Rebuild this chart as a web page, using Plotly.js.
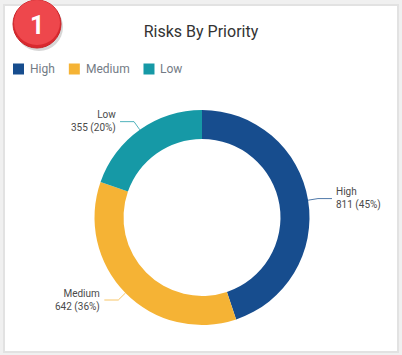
<!DOCTYPE html>
<html>
<head>
<meta charset="utf-8">
<script src="https://cdn.plot.ly/plotly-3.0.1.min.js"></script>
<style>
html,body{margin:0;padding:0;background:#f0f0f0;}
#chart{width:402px;height:355px;}
</style>
</head>
<body>
<div id="chart"></div>
<script>
// ---- data ----
const categories = ["High", "Medium", "Low"];
const values = [811, 642, 355];
const colors = ["#174d8e", "#f5b335", "#1699a6"];
const chartTitle = "Risks By Priority";
const badgeText = "1";

// ---- layout geometry (pixels) ----
const W = 402, H = 355;
const cx = 202, cy = 217.5, R = 107.5;
const FONT = "Roboto, sans-serif";

const total = values.reduce((a, b) => a + b, 0);
const traces = [];
traces.push({
  type: "pie",
  labels: categories,
  values: values,
  marker: { colors: colors, line: { width: 0 } },
  hole: 0.73,
  sort: false,
  direction: "clockwise",
  rotation: 0,
  textinfo: "none",
  showlegend: false,
  hoverinfo: "label+value+percent",
  domain: { x: [(cx - R) / W, (cx + R) / W], y: [(H - cy - R) / H, (H - cy + R) / H] }
});

const annotations = [];
const shapes = [
  { type: "rect", xref: "paper", yref: "paper", x0: 4 / W, x1: 398 / W, y0: 1 - 352 / H, y1: 1 - 5 / H,
    fillcolor: "#ffffff", line: { color: "#e2e2e2", width: 2 }, layer: "below" }
];

let cum = 0;
values.forEach((v, i) => {
  const mid = (cum + v / 2) / total * 2 * Math.PI;
  cum += v;
  const sx = Math.sin(mid), sy = -Math.cos(mid);
  const p0 = [cx + R * sx, cy + R * sy];
  const p1 = [cx + (R + 10) * sx, cy + (R + 10) * sy];
  const right = sx >= 0;
  const p2 = [p1[0] + (right ? 14 : -14), p1[1]];
  traces.push({
    type: "scatter", mode: "lines", x: [p0[0], p1[0], p2[0]], y: [p0[1], p1[1], p2[1]],
    line: { color: colors[i], width: 1 }, opacity: 0.75, showlegend: false, hoverinfo: "skip",
    xaxis: "x", yaxis: "y"
  });
  const pct = Math.round(v / total * 100);
  annotations.push({
    xref: "x", yref: "y", x: p2[0] + (right ? 2 : -2), y: p2[1],
    xanchor: right ? "left" : "right", yanchor: "middle", align: right ? "left" : "right",
    showarrow: false, text: categories[i] + "<br>" + v + " (" + pct + "%)",
    font: { family: FONT, size: 10, color: "#4a4a4a" }
  });
});

// ---- legend (squares + labels, laid out by measured text width) ----
const ctx = document.createElement("canvas").getContext("2d");
let lx = 13;
const ly = 69;

// ---- badge ----
const badgeShapes = [
  { type: "circle", xref: "paper", yref: "paper", x0: 15 / W, x1: 63 / W, y0: 1 - 51 / H, y1: 1 - 3 / H,
    fillcolor: "rgba(0,0,0,0.16)", line: { width: 0 }, layer: "above" },
  { type: "circle", xref: "paper", yref: "paper", x0: 13 / W, x1: 61 / W, y0: 1 - 48 / H, y1: 1 - 0 / H,
    fillcolor: "#d9292f", line: { color: "#c92328", width: 1 }, layer: "above" },
  { type: "circle", xref: "paper", yref: "paper", x0: 14 / W, x1: 60 / W, y0: 1 - 45 / H, y1: 1 - 0 / H,
    fillcolor: "#ee474c", line: { width: 0 }, layer: "above" }
];

function draw() {
  ctx.font = "12px Roboto";
  categories.forEach((c, i) => {
    shapes.push({ type: "rect", xref: "x", yref: "y", x0: lx, x1: lx + 11, y0: ly - 5.5, y1: ly + 5.5,
      fillcolor: colors[i], line: { width: 0 }, layer: "above" });
    const tx = lx + 16;
    annotations.push({ xref: "x", yref: "y", x: tx, y: ly, xanchor: "left", yanchor: "middle",
      showarrow: false, text: c, font: { family: FONT, size: 12, color: "#737b85" }, borderpad: 0 });
    lx = tx + ctx.measureText(c).width + 15;
  });
  shapes.push(...badgeShapes);
  annotations.push({
    xref: "paper", yref: "paper", x: 37 / W, y: 1 - 25 / H, xanchor: "center", yanchor: "middle",
    showarrow: false, text: "<b>" + badgeText + "</b>",
    font: { family: FONT, size: 25, color: "#ffffff" }
  });
  const layout = {
    width: W, height: H,
    margin: { l: 0, r: 0, t: 0, b: 0 },
    paper_bgcolor: "#f0f0f0",
    plot_bgcolor: "rgba(0,0,0,0)",
    title: {
      text: chartTitle, x: 201 / W, xanchor: "center", y: 1 - 31 / H, yanchor: "middle", yref: "container",
      font: { family: FONT, size: 16, color: "#333" }
    },
    xaxis: { range: [0, W], visible: false, fixedrange: true },
    yaxis: { range: [H, 0], visible: false, fixedrange: true },
    showlegend: false,
    shapes: shapes,
    annotations: annotations
  };
  Plotly.newPlot("chart", traces, layout, { displayModeBar: false, staticPlot: true });
}

if (document.fonts && document.fonts.load) {
  document.fonts.load("12px Roboto").then(draw, draw);
} else {
  draw();
}
</script>
</body>
</html>
